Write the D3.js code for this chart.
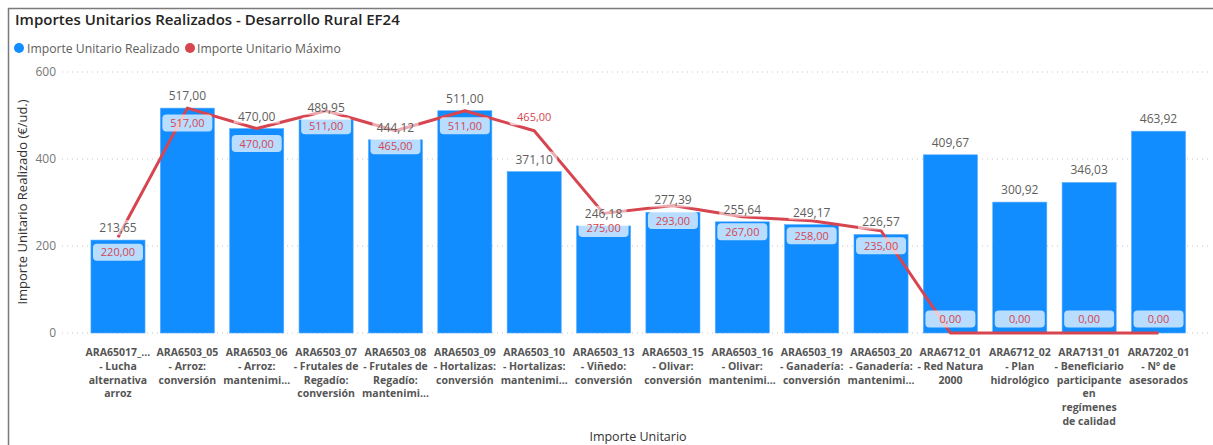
<!DOCTYPE html>
<html><head><meta charset="utf-8">
<script src="https://cdn.jsdelivr.net/npm/d3@7"></script>
<style>body{margin:0;background:#fff;}svg{display:block;font-family:"Open Sans","Noto Sans",sans-serif;}</style>
</head><body>
<svg id="chart" width="1213" height="445"></svg>
<script>
const categories = [
  "ARA65017_... - Lucha alternativa arroz",
  "ARA6503_05 - Arroz: conversión",
  "ARA6503_06 - Arroz: mantenimi...",
  "ARA6503_07 - Frutales de Regadío: conversión",
  "ARA6503_08 - Frutales de Regadío: mantenimi...",
  "ARA6503_09 - Hortalizas: conversión",
  "ARA6503_10 - Hortalizas: mantenimi...",
  "ARA6503_13 - Viñedo: conversión",
  "ARA6503_15 - Olivar: conversión",
  "ARA6503_16 - Olivar: mantenimi...",
  "ARA6503_19 - Ganadería: conversión",
  "ARA6503_20 - Ganadería: mantenimi...",
  "ARA6712_01 - Red Natura 2000",
  "ARA6712_02 - Plan hidrológico",
  "ARA7131_01 - Beneficiario participante en regímenes de calidad",
  "ARA7202_01 - Nº de asesorados"
];
const tickLines = [
  ["ARA65017_...","- Lucha","alternativa","arroz"],
  ["ARA6503_05","- Arroz:","conversión"],
  ["ARA6503_06","- Arroz:","mantenimi..."],
  ["ARA6503_07","- Frutales de","Regadío:","conversión"],
  ["ARA6503_08","- Frutales de","Regadío:","mantenimi..."],
  ["ARA6503_09","- Hortalizas:","conversión"],
  ["ARA6503_10","- Hortalizas:","mantenimi..."],
  ["ARA6503_13","- Viñedo:","conversión"],
  ["ARA6503_15","- Olivar:","conversión"],
  ["ARA6503_16","- Olivar:","mantenimi..."],
  ["ARA6503_19","- Ganadería:","conversión"],
  ["ARA6503_20","- Ganadería:","mantenimi..."],
  ["ARA6712_01","- Red Natura","2000"],
  ["ARA6712_02","- Plan","hidrológico"],
  ["ARA7131_01","- Beneficiario","participante","en","regímenes","de calidad"],
  ["ARA7202_01","- Nº de","asesorados"]
];
const realizado = [213.65, 517.00, 470.00, 489.95, 444.12, 511.00, 371.10, 246.18, 277.39, 255.64, 249.17, 226.57, 409.67, 300.92, 346.03, 463.92];
const maximo = [220, 517, 470, 511, 465, 511, 465, 275, 293, 267, 258, 235, 0, 0, 0, 0];
// label placement for the Máximo series: 1 = above the point, -1 = below
const maxLabelSide = [-1,-1,-1,-1,-1,-1,1,-1,-1,-1,-1,-1,1,1,1,1];
const yTicks = [0, 200, 400, 600];

const fmt = v => d3.format(".2f")(v).replace(".", ",");
const svg = d3.select("#chart");
const BLUE = "#118DFF", RED = "#D64550";

// frame
svg.append("path").attr("d","M8.5,445 V8.5 H1213").attr("fill","none").attr("stroke","#7a7a7a").attr("stroke-width",1.5);

svg.append("text").attr("x",15).attr("y",25).attr("font-size",15).attr("font-weight",600).attr("fill","#252423")
  .text("Importes Unitarios Realizados - Desarrollo Rural EF24");

// legend
const leg = svg.append("g").attr("font-size",12.2).attr("fill","#605E5C");
leg.append("circle").attr("cx",19).attr("cy",48).attr("r",5).attr("fill",BLUE);
leg.append("text").attr("x",27).attr("y",52.5).text("Importe Unitario Realizado");
leg.append("circle").attr("cx",190).attr("cy",48).attr("r",5).attr("fill",RED);
leg.append("text").attr("x",197).attr("y",52.5).text("Importe Unitario Máximo");

const x = d3.scaleBand().domain(categories).range([83.3, 1193.2]).paddingInner(0.22).paddingOuter(0.11);
const y = d3.scaleLinear().domain([0, 600]).range([333, 72]);

// grid
svg.append("g").selectAll("line").data(yTicks).join("line")
  .attr("x1",62).attr("x2",1210).attr("y1",d=>y(d)).attr("y2",d=>y(d))
  .attr("stroke","#C8C6C4").attr("stroke-dasharray","1,4").attr("stroke-width",1);

// y axis
const yAxis = svg.append("g").attr("transform","translate(56,0)")
  .call(d3.axisLeft(y).tickValues(yTicks).tickSize(0).tickPadding(0).tickFormat(d3.format("d")));
yAxis.select(".domain").remove();
yAxis.selectAll("text").attr("font-size",12).attr("fill","#777").attr("font-family","'Open Sans',sans-serif");

svg.append("text").attr("transform","translate(27,202) rotate(-90)").attr("text-anchor","middle")
  .attr("font-size",13).attr("fill","#333").text("Importe Unitario Realizado (€/ud.)");

// bars
svg.append("g").selectAll("rect").data(categories).join("rect")
  .attr("x",d=>x(d)).attr("width",x.bandwidth())
  .attr("y",(d,i)=>y(realizado[i])).attr("height",(d,i)=>y(0)-y(realizado[i]))
  .attr("fill",BLUE).attr("stroke","#5aaeff").attr("stroke-width",0.6);

// line
const line = d3.line().x((d,i)=>x(categories[i])+x.bandwidth()/2).y(d=>y(d));
svg.append("path").datum(maximo).attr("d",line).attr("fill","none").attr("stroke",RED).attr("stroke-width",3).attr("stroke-linejoin","round");

// bar value labels (semi-transparent background)
const bl = svg.append("g");
categories.forEach((c,i)=>{
  const cx = x(c)+x.bandwidth()/2, ty = y(realizado[i]) - 8;
  bl.append("rect").attr("x",cx-23).attr("y",ty-12).attr("width",46).attr("height",15).attr("fill","#fff").attr("opacity",0.55);
  bl.append("text").attr("x",cx).attr("y",ty).attr("text-anchor","middle").attr("font-size",12).attr("fill","#605E5C").text(fmt(realizado[i]));
});

// max value labels
const ml = svg.append("g");
categories.forEach((c,i)=>{
  const cx = x(c)+x.bandwidth()/2;
  const cy = y(maximo[i]) + (maxLabelSide[i] < 0 ? 15 : -14);
  ml.append("rect").attr("x",cx-25).attr("y",cy-8.5).attr("width",50).attr("height",17).attr("rx",4)
    .attr("fill","#fff").attr("opacity",0.7);
  ml.append("text").attr("x",cx).attr("y",cy+4).attr("text-anchor","middle").attr("font-size",11).attr("fill",RED).text(fmt(maximo[i]));
});

// x axis labels
const xl = svg.append("g").attr("font-size",10.5).attr("font-weight",700).attr("fill","#555");
categories.forEach((c,i)=>{
  const t = xl.append("text").attr("x",x(c)+x.bandwidth()/2).attr("y",356).attr("text-anchor","middle");
  tickLines[i].forEach((ln,j)=>t.append("tspan").attr("x",x(c)+x.bandwidth()/2).attr("dy",j?13.8:0).text(ln));
});

svg.append("text").attr("x",638).attr("y",441).attr("text-anchor","middle").attr("font-size",12.5).attr("fill","#333").text("Importe Unitario");
</script>
</body></html>
